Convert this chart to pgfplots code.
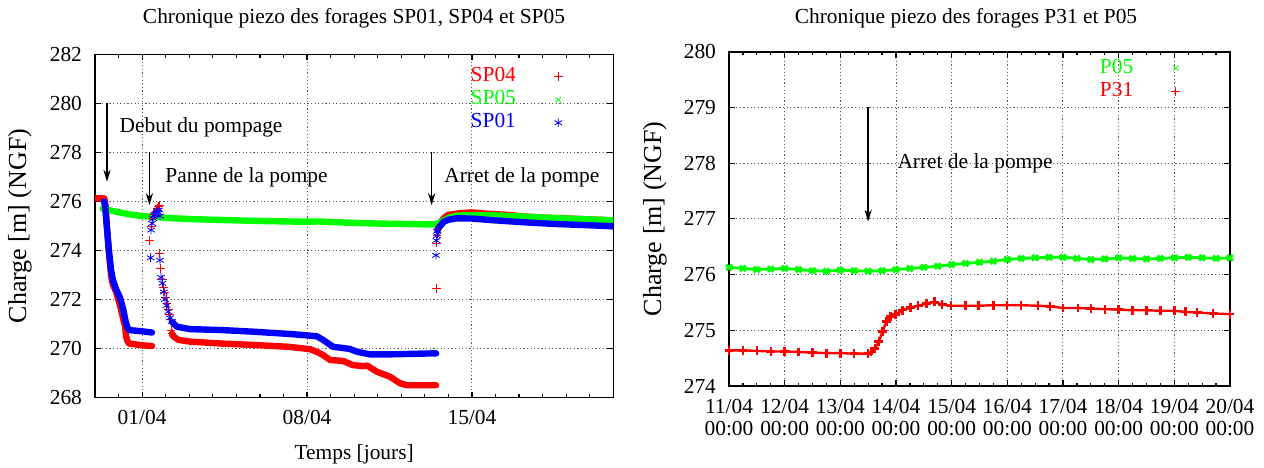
\documentclass[border=0pt]{standalone}
\usepackage{pgfplots}
\pgfplotsset{compat=1.18}
\usepackage{fontspec}
\setmainfont{Liberation Serif}
\usetikzlibrary{arrows.meta}
\definecolor{gpred}{RGB}{255,0,0}
\definecolor{gpgreen}{RGB}{0,255,0}
\definecolor{gpblue}{RGB}{0,0,255}
\newcommand{\fnt}{\fontsize{10.7}{11}\selectfont}
\pgfplotsset{
  gp/.style={
    scale only axis, anchor=south west,
    axis line style={black, line width=0.8pt},
    tick style={black, line width=0.6pt},
    major tick length=3pt, minor tick length=1.75pt,
    tick align=inside, xtick pos=both, ytick pos=both,
    xticklabel pos=lower, yticklabel pos=left,
    grid=major,
    major grid style={black!65, line width=0.5pt, dash pattern=on 0.6pt off 1.2pt},
    tick label style={font=\fnt},
    /pgf/number format/assume math mode=true,
    /pgf/number format/1000 sep={},
    yticklabel style={xshift=-3pt},
    xticklabel style={yshift=-3pt},
    label style={font=\fnt},
    legend cell align=right,
    legend plot pos=right,
    legend style={draw=none, fill=none, inner sep=0pt, font=\fnt,
      row sep=1.5pt, column sep=19pt,
      nodes={inner sep=0pt, text height=7.5pt, text depth=2.5pt}},
  },
  band/.style={line width=3.2pt, line join=round, line cap=round, forget plot},
}
\begin{document}
\begin{tikzpicture}
\useasboundingbox (0,0) rectangle (632pt,233.5pt);
\node[font=\fnt] at (177pt,224.5pt) {Chronique piezo des forages SP01, SP04 et SP05};
\node[font=\fnt] at (483pt,224.5pt) {Chronique piezo des forages P31 et P05};
% ---------------- left panel ----------------
\begin{axis}[gp, at={(47.5pt,34.75pt)}, width=259.15pt, height=171.6pt,
  xmin=-2, xmax=20, ymin=268, ymax=282,
  xtick={0,7,14}, xticklabels={01/04,08/04,15/04},
  minor xtick={-1,1,2,3,4,5,6,8,9,10,11,12,13,15,16,17,18,19},
  ytick={268,270,...,282},
  xlabel={Temps [jours]},
  xlabel style={at={(axis description cs:0.5,-0.165)}, anchor=center},
  ylabel={Charge [m] (NGF)},
  ylabel style={at={(axis description cs:-0.145,0.5)}, anchor=center, font=\fontsize{13}{14}\selectfont},
  legend style={at={(axis cs:17.87,281.51)}, anchor=north east},
]
\addlegendimage{only marks, mark=+, gpred, mark size=2.2pt}
\addlegendentry{\textcolor{gpred}{SP04}}
\addlegendimage{only marks, mark=x, gpgreen, mark size=2pt}
\addlegendentry{\textcolor{gpgreen}{SP05}}
\addlegendimage{only marks, mark=asterisk, gpblue, mark size=2.2pt}
\addlegendentry{\textcolor{gpblue}{SP01}}
% SP04
\addplot[gpred, band] coordinates {(-2,276.12) (-1.6,276.12) (-1.55,275.8) (-1.49,274.9) (-1.41,273.9) (-1.32,273.0) (-1.24,272.6) (-1.1,272.3) (-0.95,271.8) (-0.8,271.2) (-0.72,270.9) (-0.68,270.5) (-0.62,270.3) (-0.55,270.2) (0.0,270.13) (0.42,270.1)};
\addplot[gpred, only marks, mark=+, mark size=2.2pt, forget plot] coordinates {(0.33,274.4) (0.4,275.0) (0.45,275.3) (0.5,275.45) (0.55,275.55) (0.6,275.6) (0.65,275.7) (0.7,275.8) (0.73,275.85) (0.73,273.88) (0.79,273.27) (0.85,272.8) (0.9,272.5) (0.95,272.3) (1.01,272.1) (1.06,271.85) (1.11,271.6) (1.15,271.4) (1.18,271.2) (1.23,270.75) (1.27,270.6)};
\addplot[gpred, band] coordinates {(1.27,270.6) (1.32,270.5) (1.54,270.35) (2.03,270.28) (3.4,270.2) (4.8,270.14) (6.2,270.07) (7.13,269.97) (7.45,269.85) (7.68,269.73) (7.98,269.53) (8.53,269.49) (8.95,269.32) (9.38,269.28) (9.55,269.3) (9.97,269.05) (10.52,268.85) (10.95,268.58) (11.24,268.5) (12.35,268.5) (12.48,268.5)};
\addplot[gpred, only marks, mark=+, mark size=2.2pt, forget plot] coordinates {(12.48,272.45) (12.5,274.3) (12.52,274.6) (12.55,274.85)};
\addplot[gpred, band] coordinates {(12.55,274.85) (12.62,275.05) (12.7,275.2) (12.85,275.35) (13.0,275.45) (13.5,275.52) (14.0,275.55) (14.6,275.5) (15.5,275.45) (16.2,275.38) (17.5,275.32) (19.65,275.24) (20,275.22)};
% SP05
\addplot[gpgreen, band] coordinates {(-1.67,275.7) (-1.2,275.6) (-0.8,275.52) (-0.4,275.45) (0.04,275.4) (0.6,275.36) (1.32,275.31) (2.3,275.27) (3.45,275.24) (5,275.2) (6.84,275.17) (7.5,275.18) (8.5,275.14) (9.81,275.1) (11,275.08) (12.22,275.06) (12.5,275.07) (12.75,275.2) (13.0,275.32) (13.35,275.42) (14,275.44) (15,275.43) (16.18,275.38) (17.5,275.32) (18.5,275.28) (19.7,275.24) (20,275.23)};
% SP01
\addplot[gpblue, band] coordinates {(-1.62,276.0) (-1.57,275.8) (-1.49,274.9) (-1.41,274.0) (-1.32,273.2) (-1.24,272.8) (-1.1,272.4) (-0.95,272.1) (-0.8,271.6) (-0.7,271.1) (-0.62,270.85) (-0.55,270.75) (0.0,270.7) (0.42,270.65)};
\addplot[gpblue, only marks, mark=asterisk, mark size=2.2pt, forget plot] coordinates {(0.36,273.7) (0.38,274.83) (0.42,275.1) (0.47,275.3) (0.52,275.45) (0.58,275.5) (0.63,275.6) (0.68,275.55) (0.72,275.65) (0.76,275.4) (0.76,273.6) (0.8,272.9) (0.86,272.66) (0.92,272.3) (0.97,272.0) (1.04,271.75) (1.11,271.5) (1.18,271.25) (1.26,271.1)};
\addplot[gpblue, band] coordinates {(1.26,271.1) (1.47,270.89) (2.03,270.79) (3.4,270.75) (4.8,270.68) (6.28,270.59) (7.41,270.5) (7.68,270.35) (8.1,270.07) (8.82,269.98) (9.11,269.87) (9.67,269.76) (10.52,269.76) (12.35,269.8) (12.48,269.8)};
\addplot[gpblue, only marks, mark=asterisk, mark size=2.2pt, forget plot] coordinates {(12.47,273.8) (12.49,274.4) (12.51,274.6) (12.53,274.8)};
\addplot[gpblue, band] coordinates {(12.53,274.8) (12.6,274.95) (12.7,275.05) (12.8,275.17) (13.0,275.25) (13.35,275.31) (14.0,275.3) (14.77,275.24) (16.17,275.15) (17.5,275.08) (19.65,275.0) (20,274.98)};
% annotations
\draw[line width=0.7pt, -{Stealth[length=6pt,width=3.6pt]}] (axis cs:-1.49,280) -- (axis cs:-1.49,276.8);
\draw[line width=0.7pt, -{Stealth[length=6pt,width=3.6pt]}] (axis cs:0.31,278) -- (axis cs:0.31,275.85);
\draw[line width=0.7pt, -{Stealth[length=6pt,width=3.6pt]}] (axis cs:12.29,278) -- (axis cs:12.29,275.85);
\node[anchor=west, font=\fnt, inner sep=0pt] at (axis cs:-0.97,279.0) {Debut du pompage};
\node[anchor=west, font=\fnt, inner sep=0pt] at (axis cs:0.97,277.0) {Panne de la pompe};
\node[anchor=west, font=\fnt, inner sep=0pt] at (axis cs:12.81,277.0) {Arret de la pompe};
\end{axis}
% ---------------- right panel ----------------
\begin{axis}[gp, at={(364.5pt,40.5pt)}, width=250.5pt, height=167.15pt,
  xmin=0, xmax=9, ymin=274, ymax=280,
  xtick={0,...,9},
  xticklabels={{11/04\\00:00},{12/04\\00:00},{13/04\\00:00},{14/04\\00:00},{15/04\\00:00},{16/04\\00:00},{17/04\\00:00},{18/04\\00:00},{19/04\\00:00},{20/04\\00:00}},
  xticklabel style={align=center},
  minor x tick num=3,
  ytick={274,...,280},
  ylabel={Charge [m] (NGF)},
  ylabel style={at={(axis description cs:-0.148,0.5)}, anchor=center, font=\fontsize{13}{14}\selectfont},
  legend style={at={(axis cs:8.11,279.89)}, anchor=north east},
]
\addlegendimage{only marks, mark=x, gpgreen, mark size=2pt}
\addlegendentry{\textcolor{gpgreen}{P05}}
\addlegendimage{only marks, mark=+, gpred, mark size=2.2pt}
\addlegendentry{\textcolor{gpred}{P31}}
\addplot[gpgreen, line width=1.4pt, mark=x, mark size=2pt, forget plot] coordinates {(0,276.13) (0.25,276.11) (0.5,276.09) (0.75,276.1) (1.0,276.11) (1.25,276.09) (1.5,276.07) (1.75,276.06) (2.0,276.08) (2.25,276.07) (2.5,276.06) (2.75,276.07) (3.0,276.09) (3.25,276.11) (3.5,276.13) (3.75,276.15) (4.0,276.18) (4.25,276.2) (4.5,276.22) (4.75,276.24) (5.0,276.27) (5.25,276.29) (5.5,276.3) (5.75,276.31) (6.0,276.31) (6.25,276.29) (6.5,276.27) (6.75,276.28) (7.0,276.3) (7.25,276.29) (7.5,276.28) (7.75,276.29) (8.0,276.3) (8.25,276.31) (8.5,276.3) (8.75,276.29) (9.0,276.3)};
\addplot[gpred, line width=1.2pt, mark=+, mark size=2.2pt, forget plot] coordinates {(0,274.64) (0.25,274.64) (0.5,274.63) (0.75,274.62) (1.0,274.62) (1.25,274.61) (1.5,274.6) (1.75,274.59) (2.0,274.59) (2.25,274.58) (2.5,274.58) (2.55,274.61) (2.62,274.67) (2.69,274.8) (2.76,274.98) (2.83,275.16) (2.9,275.25) (2.99,275.28) (3.12,275.36) (3.26,275.41) (3.4,275.44) (3.55,275.48) (3.69,275.51) (3.83,275.46) (3.99,275.44) (4.25,275.44) (4.48,275.44) (4.75,275.45) (4.99,275.45) (5.25,275.45) (5.55,275.44) (5.77,275.43) (6.0,275.4) (6.27,275.4) (6.5,275.39) (6.75,275.38) (7.0,275.37) (7.25,275.36) (7.5,275.36) (7.75,275.35) (8.0,275.35) (8.2,275.33) (8.41,275.32) (8.7,275.3) (9.0,275.29)};
\draw[line width=0.7pt, -{Stealth[length=6pt,width=3.6pt]}] (axis cs:2.5,279) -- (axis cs:2.5,276.95);
\node[anchor=west, font=\fnt, inner sep=0pt] at (axis cs:3.02,278.0) {Arret de la pompe};
\end{axis}
\end{tikzpicture}
\end{document}
